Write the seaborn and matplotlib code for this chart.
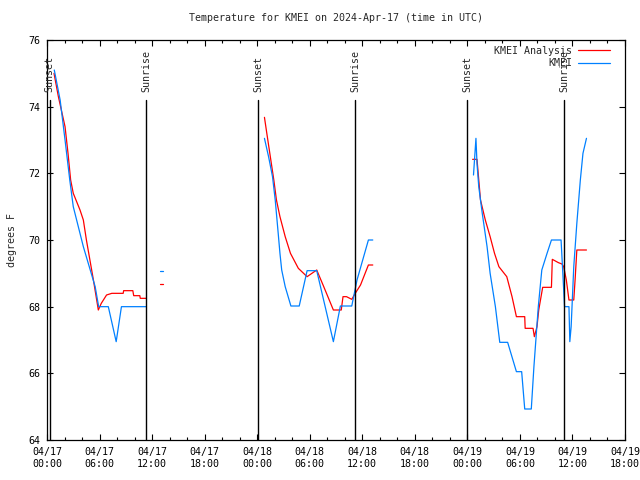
import numpy as np
import pandas as pd
import matplotlib
matplotlib.use("Agg")
import matplotlib.pyplot as plt
import matplotlib.dates as mdates
from matplotlib.lines import Line2D
import seaborn as sns

# hours after 2024-04-17 00:00 UTC, NaN = break in the line
analysis_hours = [0.8, 1.3, 2.06, 2.4, 2.7, 3.0, 3.77, 4.15, 4.5, 4.9, 5.3, 5.86, 6.2, 6.8, 7.4, 8.7, 8.75, 9.8, 9.9, 10.6, 10.65, 11.3,
                  np.nan, 12.9, 13.3,
                  np.nan, 24.83, 25.1, 25.5, 25.9, 26.2, 26.6, 27.2, 27.8, 28.7, 29.7, 30.8, 31.6, 32.7, 33.6, 33.8, 34.2, 34.8, 35.2, 35.8, 36.7, 37.2,
                  np.nan, 48.6, 49.1, 49.5, 50.05, 50.6, 51.1, 51.6, 52.5, 53.1, 53.6, 54.55, 54.6, 55.5, 55.65, 55.95, 56.15, 56.6, 57.6, 57.7, 58.4, 58.8, 59.0, 59.3, 59.6, 60.15, 60.3, 60.5, 61.6]
analysis_temps = [75.0, 74.3, 73.4, 72.6, 71.8, 71.4, 70.9, 70.6, 70.0, 69.4, 68.8, 67.9, 68.1, 68.35, 68.4, 68.4, 68.48, 68.48, 68.33, 68.33, 68.25, 68.25,
                  np.nan, 68.67, 68.67,
                  np.nan, 73.68, 73.2, 72.5, 71.8, 71.2, 70.7, 70.1, 69.6, 69.15, 68.9, 69.1, 68.6, 67.9, 67.9, 68.3, 68.3, 68.22, 68.4, 68.65, 69.25, 69.25,
                  np.nan, 72.42, 72.42, 71.2, 70.6, 70.1, 69.6, 69.2, 68.9, 68.3, 67.7, 67.7, 67.35, 67.35, 67.1, 67.4, 67.9, 68.58, 68.58, 69.42, 69.32, 69.28, 69.2, 68.8, 68.2, 68.2, 68.8, 69.7, 69.7]

obs_hours = [0.83, 1.5, 2.06, 2.6, 3.0, 4.15, 5.5, 5.9, 7.0, 7.9, 8.5, 11.3,
             np.nan, 12.9, 13.3,
             np.nan, 24.83, 25.3, 25.75, 26.06, 26.4, 26.6, 26.8, 27.2, 27.85, 28.8, 29.7, 30.8, 32.7, 33.5, 34.8, 35.4, 36.7, 37.2,
             np.nan, 48.7, 48.98, 49.1, 49.3, 49.7, 50.25, 50.6, 51.2, 51.7, 52.6, 53.6, 54.2, 54.55, 55.3, 55.6, 56.1, 56.5, 57.1, 57.6, 58.7, 58.9, 59.1, 59.6, 59.7, 59.85, 60.15, 60.5, 60.9, 61.2, 61.6]
obs_temps = [75.1, 74.2, 73.0, 71.8, 71.0, 69.8, 68.6, 68.0, 68.0, 66.95, 68.0, 68.0,
             np.nan, 69.08, 69.08,
             np.nan, 73.05, 72.5, 71.9, 71.2, 70.2, 69.6, 69.1, 68.6, 68.02, 68.02, 69.08, 69.08, 66.95, 68.02, 68.02, 68.8, 70.0, 70.0,
             np.nan, 71.95, 73.05, 72.3, 71.6, 70.8, 69.8, 69.0, 68.0, 66.93, 66.93, 66.05, 66.05, 64.93, 64.93, 66.2, 68.0, 69.1, 69.6, 70.0, 70.0, 69.0, 68.0, 68.0, 66.95, 67.4, 69.2, 70.5, 71.8, 72.6, 73.05]

sunset_hours = [0.3, 24.13, 48.0]
sunrise_hours = [11.3, 35.2, 59.07]

start = pd.Timestamp("2024-04-17 00:00")
red = "#ff0000"
blue = "#0080ff"


def to_frame(hours, temps):
    df = pd.DataFrame({"hours": hours, "temp": temps})
    df["seg"] = df["hours"].isna().cumsum()
    df = df.dropna()
    df["time"] = start + pd.to_timedelta(df["hours"], unit="h")
    return df


ana = to_frame(analysis_hours, analysis_temps)
obs = to_frame(obs_hours, obs_temps)

sns.set_style("ticks")
plt.rcParams["font.family"] = ["DejaVu Sans Mono", "DejaVu Sans"]
plt.rcParams["font.size"] = 7.2

fig = plt.figure(figsize=(6.4, 4.8), dpi=100)
ax = fig.add_axes([47 / 640, 40 / 480, 578 / 640, 400 / 480])

sns.lineplot(data=ana, x="time", y="temp", units="seg", estimator=None,
             color=red, lw=0.9, ax=ax, legend=False)
sns.lineplot(data=obs, x="time", y="temp", units="seg", estimator=None,
             color=blue, lw=0.9, ax=ax, legend=False)

for h in sunset_hours:
    t = start + pd.Timedelta(hours=h)
    ax.axvline(t, ymin=0, ymax=0.85, color="black", lw=1)
    ax.text(t, 74.45, "Sunset", rotation=90, ha="center", va="bottom", fontsize=7.2)
for h in sunrise_hours:
    t = start + pd.Timedelta(hours=h)
    ax.axvline(t, ymin=0, ymax=0.85, color="black", lw=1)
    ax.text(t, 74.45, "Sunrise", rotation=90, ha="center", va="bottom", fontsize=7.2)

ax.set_xlim(start, start + pd.Timedelta(hours=66))
ax.set_ylim(64, 76)
ax.set_yticks(np.arange(64, 77, 2))
ax.xaxis.set_major_locator(mdates.HourLocator(byhour=[0, 6, 12, 18]))
ax.xaxis.set_minor_locator(mdates.HourLocator(byhour=range(0, 24, 2)))
ax.xaxis.set_major_formatter(mdates.DateFormatter("%m/%d\n%H:%M"))
ax.tick_params(which="both", direction="in", top=True, right=True, colors="black", labelsize=7.2, width=0.8)
ax.tick_params(which="major", length=4.5, pad=5)
ax.tick_params(which="minor", length=2.5)
for s in ax.spines.values():
    s.set_color("black")
    s.set_linewidth(0.9)

ax.set_xlabel("")
ax.set_ylabel("degrees F", fontsize=7.2, labelpad=8)
ax.set_title("Temperature for KMEI on 2024-Apr-17 (time in UTC)", fontsize=7.2, pad=14)

handles = [Line2D([], [], color=red, lw=0.9), Line2D([], [], color=blue, lw=0.9)]
ax.legend(handles, ["KMEI Analysis", "KMEI"], loc="upper right", bbox_to_anchor=(0.985, 1.0),
          frameon=False, markerfirst=False, handlelength=3.2, handletextpad=0.6,
          labelspacing=0.25, fontsize=7.2, borderaxespad=0.2)

fig.savefig("out.png", dpi=100)
